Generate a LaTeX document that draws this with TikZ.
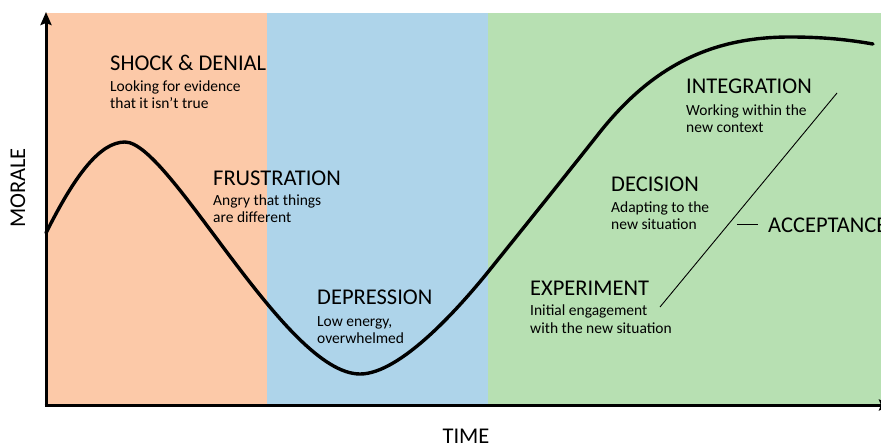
\documentclass[tikz,border=0pt]{standalone}
\usepackage{fontspec}
\setmainfont{Carlito}
\usetikzlibrary{arrows.meta}
\definecolor{peach}{RGB}{252,201,168}
\definecolor{skyb}{RGB}{174,212,234}
\definecolor{mint}{RGB}{183,224,178}
\tikzset{
  head/.style={font=\fontsize{22.5}{26}\selectfont, anchor=base west, inner sep=0pt},
  sub/.style={font=\fontsize{15.5}{17}\selectfont, anchor=base west, inner sep=0pt},
  axis/.style={line width=3pt, -{Stealth[length=13pt,width=11pt,inset=2pt]}},
  curve/.style={line width=3.4pt, line cap=round, line join=round},
}
\begin{document}
\begin{tikzpicture}[x=1pt,y=-1pt]
\useasboundingbox (0,0) rectangle (881,447);
\fill[white] (0,0) rectangle (881,447);
% panels
\fill[peach] (45,12.5) rectangle (267,405);
\fill[skyb] (267,12.5) rectangle (488,405);
\fill[mint] (488,12.5) rectangle (881,405);
% axes
\coordinate (o) at (46,405);
\coordinate (ytop) at (46,12);
\coordinate (xend) at (892,405);
\draw[axis] (o) -- (ytop);
\draw[axis] (44.5,405) -- (xend);
% curve
\coordinate (c0) at (46,233);
\coordinate (c1) at (125,142);
\coordinate (c2) at (360,374);
\coordinate (c3) at (488,272);
\coordinate (c4) at (600,132);
\coordinate (c5) at (790,37);
\coordinate (c6) at (873,44);
\draw[curve] (c0) .. controls (75,175) and (100,142) .. (c1)
  .. controls (170,142) and (285,374) .. (c2)
  .. controls (400,374) and (458,309) .. (c3)
  .. controls (525,226) and (570,170) .. (c4)
  .. controls (655,63) and (715,37) .. (c5)
  .. controls (825,37) and (850,40) .. (c6);
% acceptance line
\coordinate (d1) at (660,307);
\coordinate (d2) at (837,93);
\draw[line width=0.9pt] (d1) -- (d2);
\coordinate (m1) at (737,224.5);
\coordinate (m2) at (758,224.5);
\draw[line width=1.2pt] (m1) -- (m2);
% labels
\node[head] (sd) at (110,70) {SHOCK \& DENIAL};
\node[sub] (sd1) at (110,91) {Looking for evidence};
\node[sub] (sd2) at (110,108) {that it isn’t true};
\node[head] (fr) at (213,185) {FRUSTRATION};
\node[sub] (fr1) at (213,205) {Angry that things};
\node[sub] (fr2) at (213,222) {are different};
\node[head] (de) at (317,304) {DEPRESSION};
\node[sub] (de1) at (317,326) {Low energy,};
\node[sub] (de2) at (317,343) {overwhelmed};
\node[head] (ex) at (530,295) {EXPERIMENT};
\node[sub] (ex1) at (530,315) {Initial engagement};
\node[sub] (ex2) at (530,333) {with the new situation};
\node[head] (dc) at (611,191) {DECISION};
\node[sub] (dc1) at (611,212) {Adapting to the};
\node[sub] (dc2) at (611,229) {new situation};
\node[head] (in) at (686,93) {INTEGRATION};
\node[sub] (in1) at (686,115) {Working within the};
\node[sub] (in2) at (686,132) {new context};
\node[head] (ac) at (768,232) {ACCEPTANCE};
\node[font=\fontsize{22.5}{26}\selectfont, rotate=90, inner sep=0pt] (mo) at (18,188) {MORALE};
\node[font=\fontsize{22.5}{26}\selectfont, inner sep=0pt] (ti) at (466,436.5) {TIME};
\end{tikzpicture}
\end{document}
